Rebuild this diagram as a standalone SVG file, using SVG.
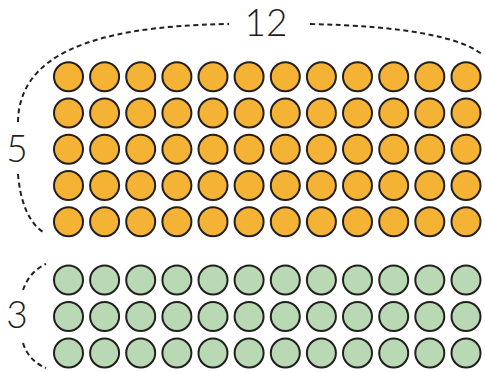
<svg xmlns="http://www.w3.org/2000/svg" width="485" height="372" viewBox="0 0 485 372">
<defs>
<style>
.o{fill:#F4B335;stroke:#231F20;stroke-width:2}
.g{fill:#B9D8B4;stroke:#231F20;stroke-width:2}
.d{fill:none;stroke:#231F20;stroke-width:2;stroke-dasharray:5 3.5}
.t{font-family:"Lato","Liberation Sans",sans-serif;font-weight:300;font-size:37px;fill:#231F20}
</style>
<circle id="oc" class="o" r="14.5"/>
<circle id="gc" class="g" r="14.5"/>
<g id="orow">
<use href="#oc" x="68.5"/><use href="#oc" x="104.6"/><use href="#oc" x="140.7"/><use href="#oc" x="176.9"/><use href="#oc" x="213"/><use href="#oc" x="249.1"/><use href="#oc" x="285.3"/><use href="#oc" x="321.4"/><use href="#oc" x="357.5"/><use href="#oc" x="393.7"/><use href="#oc" x="429.8"/><use href="#oc" x="466"/>
</g>
<g id="grow">
<use href="#gc" x="68.5"/><use href="#gc" x="104.6"/><use href="#gc" x="140.7"/><use href="#gc" x="176.9"/><use href="#gc" x="213"/><use href="#gc" x="249.1"/><use href="#gc" x="285.3"/><use href="#gc" x="321.4"/><use href="#gc" x="357.5"/><use href="#gc" x="393.7"/><use href="#gc" x="429.8"/><use href="#gc" x="466"/>
</g>
</defs>
<g id="connectors">
<path class="d" d="M18,122 C19,58 85,26 229,24"/>
<path class="d" d="M310,24 C400,26 460,36 483,55"/>
<path class="d" d="M18,174 C20,200 28,222 43,232"/>
<path class="d" d="M23,290 C27,278 36,268 46,264"/>
<path class="d" d="M23,343 C27,356 36,364 46,368"/>
</g>
<g id="orange-array">
<use href="#orow" y="76.7"/>
<use href="#orow" y="113"/>
<use href="#orow" y="149.2"/>
<use href="#orow" y="185.5"/>
<use href="#orow" y="221.7"/>
</g>
<g id="green-array">
<use href="#grow" y="280"/>
<use href="#grow" y="316.5"/>
<use href="#grow" y="353"/>
</g>
<g id="label-12"><text class="t" x="266" y="36" text-anchor="middle">12</text></g>
<g id="label-5"><text class="t" x="17" y="162" text-anchor="middle">5</text></g>
<g id="label-3"><text class="t" x="17" y="328" text-anchor="middle">3</text></g>
</svg>
